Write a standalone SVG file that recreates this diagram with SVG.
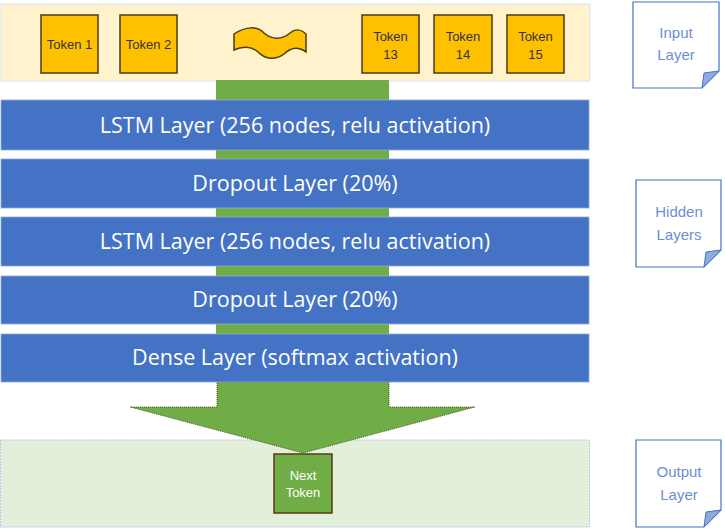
<svg xmlns="http://www.w3.org/2000/svg" width="725" height="529" viewBox="0 0 725 529">
<style>
.band-in{fill:#FFF2CC;stroke:#DAE3F3;stroke-width:1}
.band-out{fill:#E2EFDA;stroke:#B4C7E7;stroke-width:1;stroke-dasharray:2 1}
.tok{fill:#FFC000;stroke:#4A3C14;stroke-width:1.5}
.tt{font-family:"Liberation Sans",Arial,sans-serif;font-size:13px;fill:#333;text-anchor:middle}
.bar{fill:#4472C4;stroke:#8FAADC;stroke-width:0.8}
.bt{font-family:"Open Sans","Liberation Sans",sans-serif;font-size:21.5px;fill:#fff;text-anchor:middle}
.note{fill:#fff;stroke:#4472C4;stroke-width:1.2}
.nt{font-family:"Liberation Sans",Arial,sans-serif;font-size:15px;fill:#6A8FD0;text-anchor:middle}
.curl{fill:#8FAADC;stroke:#4472C4;stroke-width:1}
.green{fill:#70AD47}
</style>
<g id="input-layer">
<rect class="band-in" x="1" y="4" width="589" height="77"/>
</g>
<g id="output-layer">
<rect class="band-out" x="0.5" y="440" width="589" height="87"/>
</g>
<g id="connectors">
<rect class="green" x="216" y="80" width="173" height="302"/>
<path class="green" d="M217,382 L389,382 L389,407 L475,407 L303,453 L130,407 L217,407 Z" stroke="#3a3a1a" stroke-width="0.8" stroke-dasharray="1 1"/>
</g>
<g id="token1"><rect class="tok" x="41" y="15" width="57" height="58"/><text class="tt" x="69.5" y="49">Token 1</text></g>
<g id="token2"><rect class="tok" x="120" y="15" width="57" height="58"/><text class="tt" x="148.5" y="49">Token 2</text></g>
<g id="wave"><path class="tok" d="M234,34 C246,26 258,26 264,33 C272,40 282,40 290,33 C296,28 302,30 306,34 L306,52 C298,46 290,48 284,54 C276,60 266,60 258,52 C250,45 240,47 234,50 Z"/></g>
<g id="token13"><rect class="tok" x="362" y="15" width="57" height="58"/><text class="tt" x="390.5" y="41">Token</text><text class="tt" x="390.5" y="59">13</text></g>
<g id="token14"><rect class="tok" x="434" y="15" width="58" height="58"/><text class="tt" x="463" y="41">Token</text><text class="tt" x="463" y="59">14</text></g>
<g id="token15"><rect class="tok" x="507" y="15" width="57" height="58"/><text class="tt" x="535.5" y="41">Token</text><text class="tt" x="535.5" y="59">15</text></g>
<g id="lstm1"><rect class="bar" x="1" y="100" width="588" height="50"/><text class="bt" x="295" y="133">LSTM Layer (256 nodes, relu activation)</text></g>
<g id="dropout1"><rect class="bar" x="1" y="159" width="588" height="49"/><text class="bt" x="295" y="191">Dropout Layer (20%)</text></g>
<g id="lstm2"><rect class="bar" x="1" y="217" width="588" height="49"/><text class="bt" x="295" y="249">LSTM Layer (256 nodes, relu activation)</text></g>
<g id="dropout2"><rect class="bar" x="1" y="276" width="588" height="48"/><text class="bt" x="295" y="307">Dropout Layer (20%)</text></g>
<g id="dense"><rect class="bar" x="1" y="334" width="588" height="48"/><text class="bt" x="295" y="365">Dense Layer (softmax activation)</text></g>
<g id="next-token"><rect class="green" x="274" y="454" width="58" height="59" stroke="#5a3a14" stroke-width="1.5"/><text class="tt" x="303" y="480" style="fill:#fff">Next</text><text class="tt" x="303" y="497" style="fill:#fff">Token</text></g>
<g id="note-input"><path class="note" d="M633,2 L719,2 L719,71 L702,88 L633,88 Z"/><path class="curl" d="M719,71 L702,88 L704,73 Z"/><text class="nt" x="676" y="38">Input</text><text class="nt" x="676" y="60">Layer</text></g>
<g id="note-hidden"><path class="note" d="M636,180 L721,180 L721,250 L704,267 L636,267 Z"/><path class="curl" d="M721,250 L704,267 L706,252 Z"/><text class="nt" x="679" y="217">Hidden</text><text class="nt" x="679" y="240">Layers</text></g>
<g id="note-output"><path class="note" d="M636,440 L721,440 L721,510 L704,527 L636,527 Z"/><path class="curl" d="M721,510 L704,527 L706,512 Z"/><text class="nt" x="679" y="477">Output</text><text class="nt" x="679" y="500">Layer</text></g>
</svg>
